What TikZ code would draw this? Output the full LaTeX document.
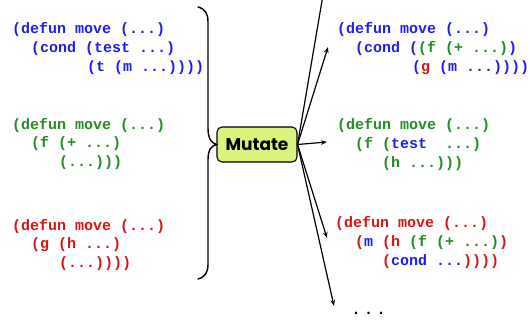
\documentclass[tikz,border=0pt]{standalone}
\usepackage{fontspec}
\usetikzlibrary{arrows.meta}
\newfontfamily\codefont{Liberation Mono}
\newfontfamily\mutfont{Poppins}
\definecolor{cb}{RGB}{30,30,235}
\definecolor{cg}{RGB}{35,140,35}
\definecolor{cr}{RGB}{215,20,20}
\definecolor{mutfill}{RGB}{218,243,122}
\newcommand{\B}[1]{\textcolor{cb}{#1}}
\newcommand{\G}[1]{\textcolor{cg}{#1}}
\newcommand{\R}[1]{\textcolor{cr}{#1}}
\tikzset{
  code/.style={anchor=base west, inner sep=0pt, font=\codefont\bfseries\fontsize{15}{15}\selectfont},
  mutbox/.style={draw=black, line width=1.1pt, fill=mutfill, rounded corners=5pt,
    minimum width=80pt, minimum height=35pt, inner sep=0pt,
    font=\mutfont\bfseries\fontsize{17}{17}\selectfont},
  arr/.style={line width=1.2pt, -{Stealth[length=6pt,width=4.5pt]}},
  plain/.style={line width=1.2pt},
  bracestyle/.style={line width=1.4pt, line cap=round}
}
\begin{document}
\begin{tikzpicture}[x=1pt,y=-1pt]
\useasboundingbox (0,0) rectangle (530,320);
% left programs
\node[code] (l1a) at (12,34) {\B{(defun move (...)}};
\node[code] (l1b) at (31,53) {\B{(cond (test ...)}};
\node[code] (l1c) at (87,72) {\B{(t (m ...))))}};
\node[code] (l2a) at (12,130) {\G{(defun move (...)}};
\node[code] (l2b) at (31,148) {\G{(f (+ ...)}};
\node[code] (l2c) at (59,167) {\G{(...)))}};
\node[code] (l3a) at (12,231) {\R{(defun move (...)}};
\node[code] (l3b) at (31,249) {\R{(g (h ...)}};
\node[code] (l3c) at (59,268) {\R{(...))))}};
% right programs
\node[code] (r1a) at (337,34) {\B{(defun move (...)}};
\node[code] (r1b) at (355,53) {\B{(cond (}\G{(f (+ ...)}\B{)}};
\node[code] (r1c) at (412,72) {\B{(}\R{g} \B{(m ...))))}};
\node[code] (r2a) at (337,130) {\G{(defun move (...)}};
\node[code] (r2b) at (355,149) {\G{(f (}\B{test}\ \ \G{...)}};
\node[code] (r2c) at (382,168) {\G{(h ...)))}};
\node[code] (r3a) at (335,228) {\R{(defun move (...)}};
\node[code] (r3b) at (355,247) {\R{(}\B{m} \R{(h} \G{(f (+ ...)}\R{)}};
\node[code] (r3c) at (382,266) {\R{(}\B{cond ...}\R{))))}};
\node[code] (dots) at (351.5,315) {.\kern3.5pt.\kern3.5pt.};
% mutate box
\node[mutbox] (mut) at (257,144.5) {Mutate};
% brace
\draw[bracestyle] (198,7) .. controls (205,9) and (208,13) .. (208,22)
  -- (208,128) .. controls (208,138) and (211,143) .. (mut.west)
  .. controls (211,146) and (208,150) .. (208,160)
  -- (208,264) .. controls (208,273) and (205,277) .. (198,279);
% arrows
\coordinate (t0) at (322.5,-2);
\coordinate (t1) at (328,47);
\coordinate (t2) at (327,142);
\coordinate (t3) at (327,238);
\coordinate (t4) at (334,306);
\draw[plain] (mut.east) -- (t0);
\draw[arr] (mut.east) -- (t1);
\draw[arr] (mut.east) -- (t2);
\draw[arr] (mut.east) -- (t3);
\draw[arr] (mut.east) -- (t4);
\end{tikzpicture}
\end{document}
